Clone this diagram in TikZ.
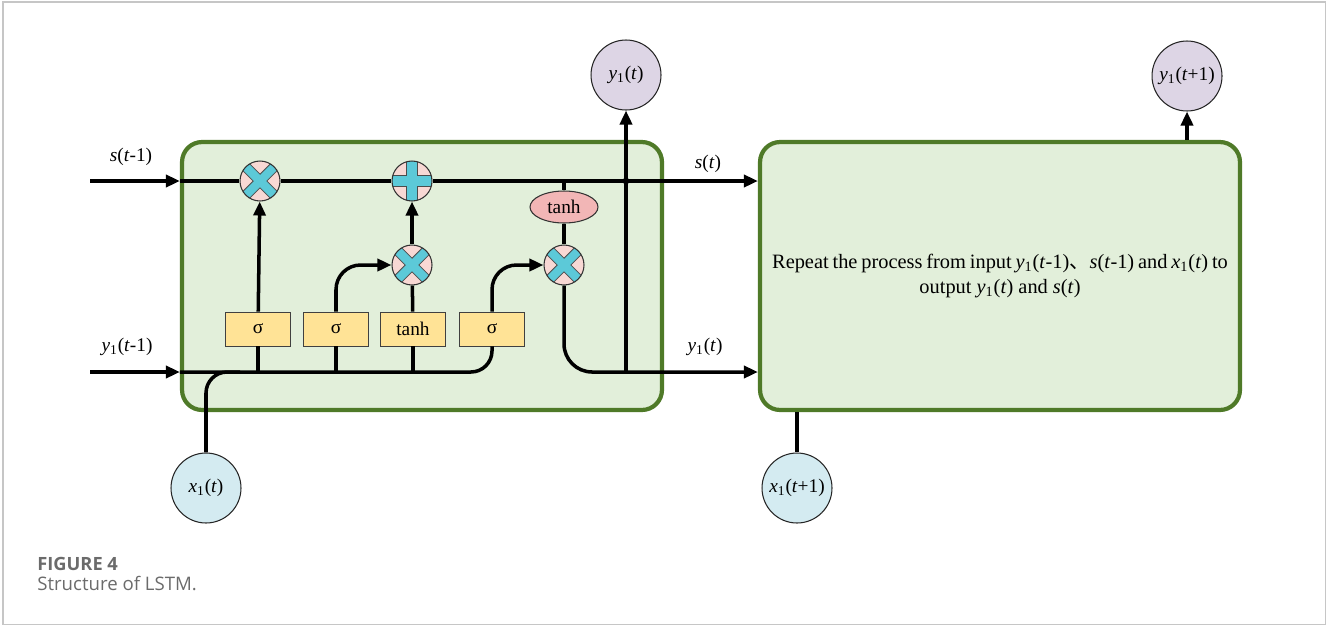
\documentclass[tikz,border=0pt]{standalone}
\usepackage{fontspec}
\setmainfont{Liberation Serif}
\newfontfamily\capfont{Open Sans}
\newfontfamily\cjkfont{Noto Sans CJK SC}
\usetikzlibrary{arrows.meta,shapes.geometric}
\definecolor{cellfill}{HTML}{E2EFDA}
\definecolor{celledge}{HTML}{4F7A28}
\definecolor{opfill}{HTML}{F8D8D4}
\definecolor{opcross}{HTML}{5CC9D8}
\definecolor{gatefill}{HTML}{FFE396}
\definecolor{thfill}{HTML}{F2B6B6}
\definecolor{outfill}{HTML}{DDD5E5}
\definecolor{infill}{HTML}{D4EBF1}
\definecolor{framec}{HTML}{C6C6C6}
\definecolor{capgrey}{HTML}{6B6B6B}
\newcommand{\yv}{\textit{y}\textsubscript{1}}
\newcommand{\xv}{\textit{x}\textsubscript{1}}
\newcommand{\sv}{\textit{s}}
\newcommand{\tv}{\textit{t}}
\begin{document}
\begin{tikzpicture}[x=0.02cm, y=-0.02cm,
  wire/.style={line width=2pt},
  arr/.style={-{Triangle[length=0.28cm,width=0.24cm]}},
  cell/.style={draw=celledge, fill=cellfill, line width=2.4pt, rounded corners=0.4cm,
    minimum width=9.6cm, minimum height=5.36cm},
  gate/.style={draw=black!75, fill=gatefill, line width=0.5pt, minimum width=1.3cm,
    minimum height=0.68cm, inner sep=0pt, font=\fontsize{11}{11}\selectfont},
  op/.style={circle, draw=black!80, fill=opfill, line width=0.6pt, minimum size=0.8cm, inner sep=0pt},
  mult/.style={op, path picture={
    \draw[line width=0.21cm, black!70] (path picture bounding box.north west) -- (path picture bounding box.south east)
      (path picture bounding box.north east) -- (path picture bounding box.south west);
    \draw[line width=0.17cm, opcross] (path picture bounding box.north west) -- (path picture bounding box.south east)
      (path picture bounding box.north east) -- (path picture bounding box.south west);}},
  plus/.style={op, path picture={
    \draw[line width=0.23cm, black!70] (path picture bounding box.north) -- (path picture bounding box.south)
      (path picture bounding box.west) -- (path picture bounding box.east);
    \draw[line width=0.19cm, opcross] (path picture bounding box.north) -- (path picture bounding box.south)
      (path picture bounding box.west) -- (path picture bounding box.east);}},
  io/.style={circle, draw=black!85, line width=0.6pt, minimum size=1.4cm, inner sep=0pt,
    font=\fontsize{11}{11}\selectfont},
  lbl/.style={font=\fontsize{11}{11}\selectfont}]
  \useasboundingbox (0,0) rectangle (1327,626);
  \draw[framec, line width=0.8pt] (3,2) rectangle (1325.5,624.5);

  \node[cell] (cell) at (422,276) {};
  \node[cell, align=center, font=\fontsize{11.6}{14.2}\selectfont] (rep) at (1000,276)
    {\spaceskip=0.19em plus 0.05em\relax Repeat the process from input \yv(\tv-1){\cjkfont 、}\sv(\tv-1) and \xv(\tv) to\\ output \yv(\tv) and \sv(\tv)};

  \coordinate (sl) at (90,181);
  \coordinate (yl) at (90,372);
  \coordinate (xj) at (240,372);

  \node[mult] (mf) at (260,181) {};
  \node[plus] (ad) at (412,181) {};
  \node[mult] (mi) at (412,265) {};
  \node[mult] (mo) at (564,265) {};
  \node[ellipse, draw=black!80, fill=thfill, line width=0.6pt, minimum width=1.36cm, minimum height=0.64cm,
    inner sep=0pt, font=\fontsize{11}{11}\selectfont] (th) at (564,207) {tanh};

  \node[gate] (g1) at (258,329) {σ};
  \node[gate] (g2) at (336,329) {σ};
  \node[gate] (g3) at (413,329) {tanh};
  \node[gate] (g4) at (492,329) {σ};

  \node[io, fill=outfill] (yo) at (626,75) {\yv(\tv)};
  \node[io, fill=outfill] (yn) at (1187,76) {\yv(\tv+1)};
  \node[io, fill=infill] (xi) at (206,488) {\xv(\tv)};
  \node[io, fill=infill] (xn) at (797,488) {\xv(\tv+1)};

  \node[lbl] (lsin) at (131,157) {\sv(\tv-1)};
  \node[lbl] (lyin) at (127,347) {\yv(\tv-1)};
  \node[lbl] (lsout) at (708,164) {\sv(\tv)};
  \node[lbl] (lyout) at (705,347) {\yv(\tv)};

  % cell state
  \draw[wire, arr] (sl) -- (sl -| cell.west);
  \draw[wire] (sl -| cell.west) -- (mf);
  \draw[wire] (mf) -- (ad);
  \draw[wire, arr] (ad) -- (ad -| rep.west);
  \draw[wire] (ad -| th) -- (th);
  \draw[wire] (th) -- (mo);
  \fill (ad -| yo) circle (3.4);

  % hidden state and input
  \draw[wire, arr] (yl) -- (yl -| cell.west);
  \draw[wire, rounded corners=12] (yl -| cell.west) -| (g4);
  \draw[wire, rounded corners=12] (xi) |- (xj);
  \foreach \g in {g1,g2,g3}
    \draw[wire] (\g) -- (\g |- yl);

  % gates
  \draw[wire, arr] (g1) -- (mf);
  \draw[wire, arr, rounded corners=14] (g2) |- (mi);
  \draw[wire] (g3) -- (mi);
  \draw[wire, arr] (mi) -- (ad);
  \draw[wire, arr, rounded corners=14] (g4) |- (mo);

  % output
  \draw[wire, arr, rounded corners=16] (mo) |- (yl -| rep.west);
  \draw[wire, arr] (yo |- yl) -- (yo);
  \draw[wire, arr] (yn |- rep.north) -- (yn);
  \draw[wire] (xn) -- (xn |- rep.south);

  \node[anchor=west, inner sep=0pt, text=capgrey, font=\capfont\bfseries\fontsize{10.4}{12}\selectfont] (fig) at (37,564) {FIGURE 4};
  \node[anchor=west, inner sep=0pt, text=capgrey, font=\capfont\fontsize{10.6}{12}\selectfont] (cap) at (37,583) {Structure of LSTM.};
\end{tikzpicture}
\end{document}
